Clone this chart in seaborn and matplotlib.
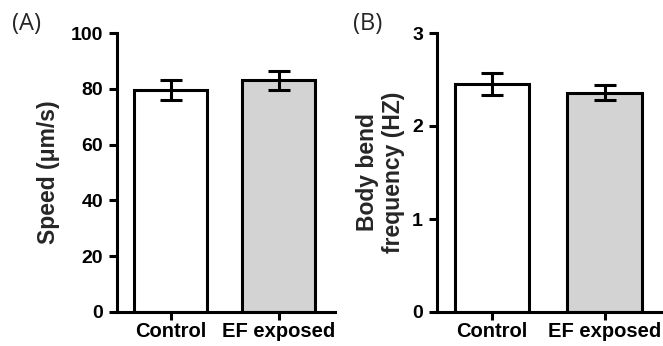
import matplotlib
matplotlib.use("Agg")
import matplotlib.pyplot as plt
import seaborn as sns
import numpy as np

categories = ["Control", "EF exposed"]
speed_mean = [79.6, 83.0]
speed_err = [3.6, 3.5]
freq_mean = [2.45, 2.36]
freq_err = [0.115, 0.08]
speed_ticks = [0, 20, 40, 60, 80, 100]
freq_ticks = [0, 1, 2, 3]
bar_colors = ["#ffffff", "#d3d3d3"]

sns.set_theme(style="ticks")
plt.rcParams["font.family"] = ["Liberation Sans", "DejaVu Sans"]

fig = plt.figure(figsize=(6.63, 3.46), dpi=100)
axA = fig.add_axes([117/663, 34/346, 218/663, 279/346])
axB = fig.add_axes([437/663, 34/346, 226/663, 279/346])

LW = 2.2

def panel(ax, vals, errs, ticks, ylabel, width, xlim, label, lx, lpad):
    sns.barplot(x=categories, y=vals, hue=categories, palette=bar_colors,
                legend=False, edgecolor="black", linewidth=LW, width=width,
                ax=ax, errorbar=None, saturation=1)
    ax.errorbar(range(len(vals)), vals, yerr=errs, fmt="none", ecolor="black",
                elinewidth=LW, capsize=8, capthick=LW, zorder=5)
    ax.set_ylim(ticks[0], ticks[-1])
    ax.set_xlim(*xlim)
    ax.set_yticks(ticks)
    ax.set_yticklabels([str(t) for t in ticks], fontweight="bold", fontsize=14)
    ax.set_xticks(range(len(categories)))
    ax.set_xticklabels(categories, fontweight="bold", fontsize=14.5)
    ax.set_xlabel("")
    ax.set_ylabel(ylabel, fontweight="bold", fontsize=16.5, linespacing=1.2,
                  labelpad=lpad)
    for s in ["top", "right"]:
        ax.spines[s].set_visible(False)
    for s in ["left", "bottom"]:
        ax.spines[s].set_linewidth(LW)
        ax.spines[s].set_color("black")
    ax.tick_params(axis="both", direction="out", length=6, width=LW, color="black",
                   labelcolor="black")
    ax.tick_params(axis="y", pad=4)
    ax.tick_params(axis="x", pad=1.5)
    fig.text(lx, 1 - 24/346, label, fontsize=17, family=["Open Sans", "DejaVu Sans"],
             va="center", ha="left")

panel(axA, speed_mean, speed_err, speed_ticks, "Speed (\u03bcm/s)", 0.676,
      (-0.5, 1.52), "(A)", 12/663, 8)
panel(axB, freq_mean, freq_err, freq_ticks, "Body bend\nfrequency (HZ)", 0.66,
      (-0.49, 1.52), "(B)", 353/663, 5)

fig.savefig("out.png", dpi=100)
